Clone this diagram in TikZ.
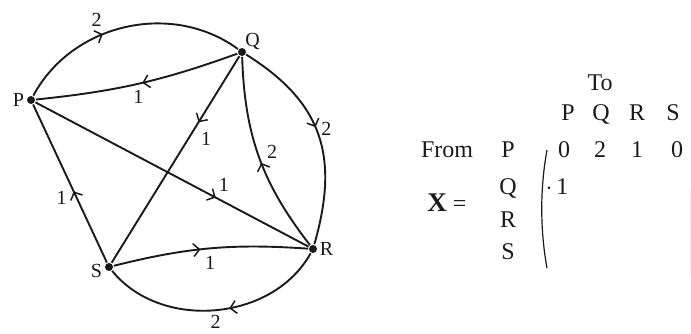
\documentclass[tikz,border=0pt]{standalone}
\usepackage{fontspec}
\setmainfont{Liberation Serif}
\usetikzlibrary{arrows.meta,decorations.markings}
\definecolor{ink}{HTML}{1A1A1A}

\begin{document}
\begin{tikzpicture}[x=1pt, y=1pt,
    line width=1.9pt, color=ink,
    vertex/.style={circle, fill=ink, inner sep=0pt, minimum size=8pt},
    vlab/.style={font=\fontsize{20}{22}\selectfont, text=ink, inner sep=1pt},
    wt/.style={font=\fontsize{20}{22}\selectfont, text=ink, inner sep=1pt},
    mtx/.style={font=\fontsize{24}{27}\selectfont, text=ink, inner sep=0pt,
                text height=1.45ex, text depth=0.2ex},
    flow/.style={postaction={decorate}, decoration={markings,
        mark=at position #1 with {\arrow{Straight Barb[length=6pt,width=13pt,line width=1.5pt]}}}}]
  % fixed 691 x 333 canvas
  \path[use as bounding box] (0,0) rectangle (691,333);

  % ================= 1) network =================
  \node[vertex, label={[vlab]left:P}] (P) at (31,233) {};
  \node[vertex, label={[vlab, xshift=-2pt, yshift=-3pt]above right:Q}] (Q) at (242,281) {};
  \node[vertex, label={[vlab]right:R}] (R) at (313,84) {};
  \node[vertex, label={[vlab, yshift=-4pt]left:S}] (S) at (109,66) {};

  % outer arcs
  \draw[flow=0.4] (P) to[bend left=49] node[wt, pos=0.37, above=8pt] (wPQ) {2} (Q);
  \draw[flow=0.46] (Q) to[out=-32, in=74, looseness=1.15] node[wt, pos=0.47, right=3pt] (wQR) {2} (R);
  \draw[flow=0.44] (R) to[bend left=56] node[wt, pos=0.5, below=3pt] (wRS) {2} (S);
  % inner edges
  \draw[flow=0.48] (Q) to[bend left=7] node[wt, pos=0.5, below=5pt] (wQP) {1} (P);
  \draw[flow=0.47] (R) to[bend left=18] node[wt, pos=0.53, right=8pt] (wRQ) {2} (Q);
  \draw[flow=0.45] (S) to[bend left=9] node[wt, pos=0.5, below=6pt] (wSR) {1} (R);
  \draw[flow=0.32] (Q) -- node[wt, pos=0.4, right=11pt] (wQS) {1} (S);
  \draw[flow=0.66] (P) -- node[wt, pos=0.69, above=8pt] (wPR) {1} (R);
  \draw[flow=0.45] (S) -- node[wt, pos=0.41, left=8pt] (wSP) {1} (P);

  % ================= 2) matrix X =================
  \node[mtx] (to) at (600,245) {To};
  \foreach \c/\x in {P/568,Q/601,R/637,S/673}
    \node[mtx] (col\c) at (\x,215) {\c};
  \node[mtx] (from) at (447,178) {From};
  \foreach \r/\y in {P/178,Q/141,R/108,S/76}
    \node[mtx] (row\r) at (508,\y) {\r};
  \node[mtx] (X) at (447,124) {{\fontsize{27}{29}\selectfont\bfseries X} =};
  % first row and first entry of second row
  \foreach \v/\x [count=\i] in {0/564,2/600,1/637,0/677}
    \node[mtx] (e1\i) at (\x,178) {\v};
  \node[mtx] (e21) at (557,141) {$\cdot$\,1};
  % brackets (right one cut by the edge)
  \draw[line width=1.2pt] (547,183) .. controls (540,145) and (540,103) .. (547,65);
  \draw[black!8, line width=1pt] (690,143) .. controls (691,110) and (691,90) .. (690,58);
\end{tikzpicture}
\end{document}
